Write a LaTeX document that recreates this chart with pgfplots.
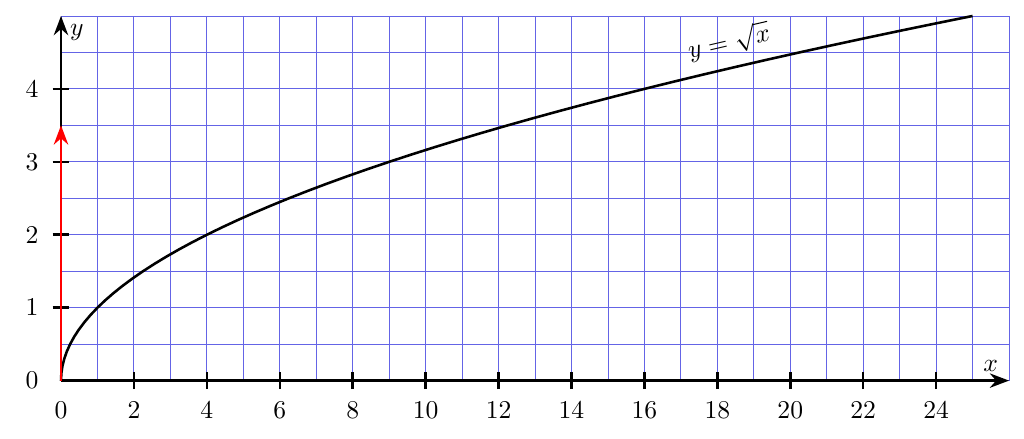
\documentclass[border=0pt]{standalone}
\usepackage{pgfplots}
\pgfplotsset{compat=1.18}
\usetikzlibrary{arrows.meta}
\definecolor{gridblue}{RGB}{100,100,230}
\begin{document}
\begin{tikzpicture}
\begin{axis}[
 set layers=standard,
 x=0.5cm, y=1cm,
 axis lines=middle,
 xmin=0,xmax=26,ymin=0,ymax=5,
 xtick={2,4,...,24}, ytick={1,2,3,4},
 extra x ticks={0}, extra y ticks={0},
 extra tick style={major tick style={draw=none}},
 major tick length=6.6pt,
 tick align=center,
 major tick style={draw=black, line width=1pt},
 axis line style={black, line width=1pt, -Stealth},
 hide obscured x ticks=false, hide obscured y ticks=false,
 xlabel={$x$}, ylabel={$y$},
 xlabel style={at={(axis cs:25.5,0)}, anchor=south},
 ylabel style={at={(axis cs:0,4.77)}, anchor=west},
 xticklabel style={yshift=-1.5pt},
 yticklabel style={xshift=-2pt},
 clip=false,
]
\begin{pgfonlayer}{axis background}
\begin{scope}[shift={(axis cs:0,0)}]
\draw[gridblue, line width=0.35pt, step=0.5cm] (0,0) grid (13cm,5cm);
\end{scope}
\end{pgfonlayer}
\addplot[black, line width=1pt] coordinates {
(0,0) (0.01,0.1) (0.04,0.2) (0.09,0.3) (0.16,0.4) (0.25,0.5) (0.36,0.6) (0.49,0.7) (0.64,0.8) (0.81,0.9)
(1,1) (1.21,1.1) (1.44,1.2) (1.69,1.3) (1.96,1.4) (2.25,1.5) (2.56,1.6) (2.89,1.7) (3.24,1.8) (3.61,1.9)
(4,2) (4.41,2.1) (4.84,2.2) (5.29,2.3) (5.76,2.4) (6.25,2.5) (6.76,2.6) (7.29,2.7) (7.84,2.8) (8.41,2.9)
(9,3) (9.61,3.1) (10.24,3.2) (10.89,3.3) (11.56,3.4) (12.25,3.5) (12.96,3.6) (13.69,3.7) (14.44,3.8) (15.21,3.9)
(16,4) (16.81,4.1) (17.64,4.2) (18.49,4.3) (19.36,4.4) (20.25,4.5) (21.16,4.6) (22.09,4.7) (23.04,4.8) (24.01,4.9) (25,5)
};
\addplot[red, line width=1pt, -Stealth] coordinates {(0,0) (0,3.5)};
\node[rotate=13, anchor=center] at (axis cs:18.32,4.64) {$y=\sqrt{x}$};
\path (axis cs:-1.673,-0.795) rectangle (axis cs:26.41,5.219);
\end{axis}
\end{tikzpicture}
\end{document}
